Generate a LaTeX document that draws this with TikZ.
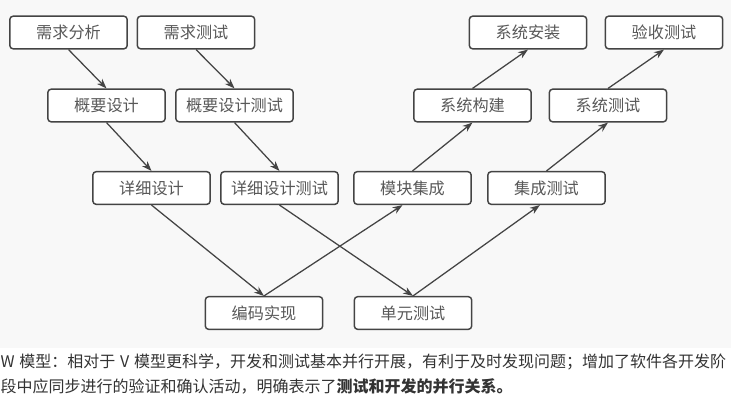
\documentclass[tikz,border=0pt]{standalone}
\usepackage{fontspec}
\setmainfont{Noto Sans CJK SC}
\usepackage{tikz}
\usetikzlibrary{arrows.meta}
\tikzset{every picture/.style={line width=0.75pt}}
\definecolor{bggray}{RGB}{248,248,248}
\definecolor{boxline}{RGB}{68,68,68}
\definecolor{boxtext}{RGB}{88,88,88}
\definecolor{captext}{RGB}{51,51,51}
\tikzset{
  stage/.style={draw=boxline, line width=1.1pt, fill=white, rounded corners=2.5pt,
    minimum width=88pt, minimum height=24.5pt, inner sep=0pt, text=boxtext,
    font=\fontsize{12.1}{14}\selectfont},
  flow/.style={draw=boxline, line width=0.95pt, -{Stealth[length=7.5pt,width=5.5pt]}},
  caption/.style={anchor=west, inner sep=0pt, text=captext, font=\fontsize{12}{14}\selectfont}
}

\begin{document}
\begin{tikzpicture}[x=0.75pt,y=0.75pt,yscale=-1,xscale=1]
\useasboundingbox (0,0) rectangle (731,400);
%Shape: Rectangle [background]
\fill[bggray] (0,0) rectangle (731,348);

% Text Node
\node[stage] (xqfx) at (68.5,32.5) {需求分析};
% Text Node
\node[stage] (xqcs) at (196,32.5) {需求测试};
% Text Node
\node[stage] (xtaz) at (528,32.5) {系统安装};
% Text Node
\node[stage] (yscs) at (664,32.5) {验收测试};
% Text Node
\node[stage] (gysj) at (106.5,105.5) {概要设计};
% Text Node
\node[stage] (gycs) at (234.5,105.5) {概要设计测试};
% Text Node
\node[stage] (xtgj) at (472.5,105.5) {系统构建};
% Text Node
\node[stage] (xtcs) at (608,105.5) {系统测试};
% Text Node
\node[stage] (xxsj) at (151.5,188) {详细设计};
% Text Node
\node[stage] (xxcs) at (279.5,188) {详细设计测试};
% Text Node
\node[stage] (mkjc) at (412.5,188) {模块集成};
% Text Node
\node[stage] (jccs) at (546.5,188) {集成测试};
% Text Node
\node[stage] (bmsx) at (264,313) {编码实现};
% Text Node
\node[stage] (dycs) at (413,313) {单元测试};

%Straight Lines
\draw[flow] (xqfx.south) -- (gysj.north);
\draw[flow] (xqcs.south) -- (gycs.north);
\draw[flow] (gysj.south) -- (xxsj.north);
\draw[flow] (gycs.south) -- (xxcs.north);
\draw[flow] (xxsj.south) -- (bmsx.north);
\draw[flow] (xxcs.south) -- (dycs.north);
\draw[flow] (bmsx.north) -- ([xshift=-7.5pt]mkjc.south);
\draw[flow] (dycs.north) -- ([xshift=-5pt]jccs.south);
\draw[flow] (mkjc.north) -- (xtgj.south);
\draw[flow] (xtgj.north) -- (xtaz.south);
\draw[flow] (jccs.north) -- (xtcs.south);
\draw[flow] (xtcs.north) -- (yscs.south);

% Text Node
\node[caption] (cap1) at (0,362) {W\hspace{0.3em}模型：相对于\hspace{0.3em}V\hspace{0.3em}模型更科学，开发和测试基本并行开展，有利于及时发现问题；增加了软件各开发阶};
% Text Node
\node[caption] (cap2) at (0,386) {段中应同步进行的验证和确认活动，明确表示了\textbf{测试和开发的并行关系。}};
\end{tikzpicture}
\end{document}
